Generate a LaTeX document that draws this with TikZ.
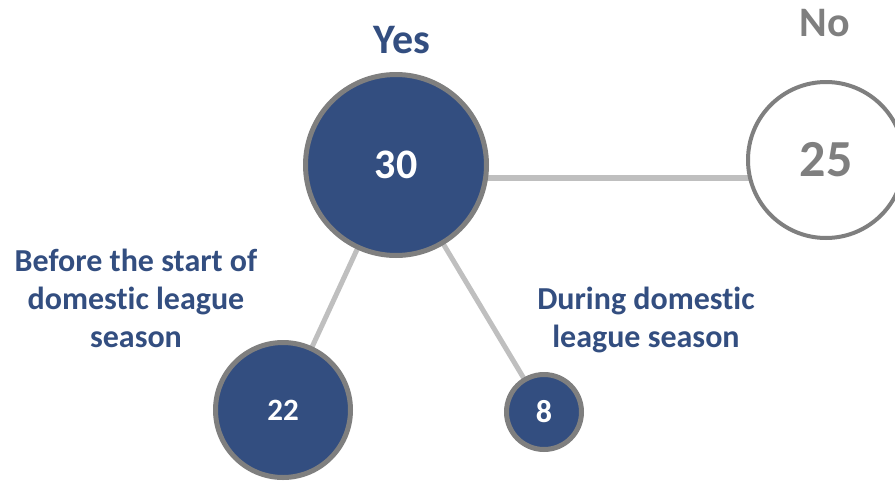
\documentclass[tikz,border=0pt]{standalone}
\usepackage{fontspec}
\setmainfont{Carlito}[Ligatures=NoCommon]
\usepackage{xcolor}
\definecolor{YESCOLOR}{RGB}{51,78,128}
\definecolor{RIMCOLOR}{RGB}{127,127,127}
\definecolor{LINKCOLOR}{RGB}{191,191,191}
\usepackage{tikz}
\usetikzlibrary{positioning,backgrounds}
\tikzset{
  ball-style/.style = {
    circle, draw=RIMCOLOR, line width=#1, inner sep=0pt
  },
  yes-style/.style = {
    ball-style=5pt, fill=YESCOLOR, text=white
  },
  no-style/.style = {
    ball-style=4pt, fill=white, text=RIMCOLOR
  },
  label-style/.style = {
    text=YESCOLOR, align=center, anchor=base,
    font=\fontsize{32}{38}\selectfont\bfseries
  },
  link-style/.style = {
    draw=LINKCOLOR, line width=#1
  },
  link-style/.default = 5pt
}

\begin{document}
\begin{tikzpicture}[x=1pt,y=-1pt]
    \useasboundingbox (0,0) rectangle (895,480);

    %%% answers
    \node[yes-style,minimum size=181pt,font=\fontsize{42}{42}\selectfont\bfseries] (n30) at (396,165) {30};
    \node[no-style,minimum size=156pt,font=\fontsize{52}{52}\selectfont\bfseries] (n25) at (826,160) {25};
    \node[label-style,font=\fontsize{42}{42}\selectfont\bfseries] (yes) at (402,53) {Yes};
    \node[label-style,text=RIMCOLOR,font=\fontsize{42}{42}\selectfont\bfseries] (no) at (825,36) {No};

    %%% timing
    \node[yes-style,minimum size=135pt,font=\fontsize{31}{31}\selectfont\bfseries] (n22) at (283,410) {22};
    \node[yes-style,minimum size=75pt,font=\fontsize{32}{32}\selectfont\bfseries] (n8) at (544,412) {8};
    \node[label-style] (before) at (136,347) {Before the start of\\domestic league\\season};
    \node[label-style] (during) at (646,347) {During domestic\\league season};

    %%% links
    \begin{pgfonlayer}{background}
      % yes to no
      \path[link-style=6pt] ([yshift=-13pt]n30.center) -- ([yshift=-13pt]n30.center -| n25.center);
      % yes to before
      \path[link-style] (n30.center) -- (n22.center);
      % yes to during
      \path[link-style] (n30.center) -- (n8.center);
    \end{pgfonlayer}
\end{tikzpicture}
\end{document}
